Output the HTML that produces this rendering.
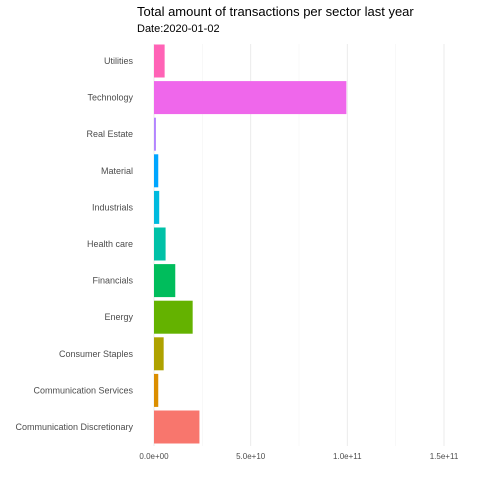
<!DOCTYPE html>
<html><head><meta charset="utf-8"><style>
body{margin:0;background:#fff;}
svg{display:block;font-family:"Liberation Sans",sans-serif;}
</style></head><body>
<svg id="chart" width="480" height="480">
<text x="137" y="16" font-size="13" fill="#000">Total amount of transactions per sector last year</text>
<text x="137" y="32" font-size="11" fill="#000">Date:2020-01-02</text>
<g id="grid"></g><g id="bars"></g><g id="ylabels"></g><g id="xlabels"></g>
</svg>
<script>
const categories=["Communication Discretionary","Communication Services","Consumer Staples","Energy","Financials","Health care","Industrials","Material","Real Estate","Technology","Utilities"];
const values=[2.35e10,0.22e10,0.5e10,2.0e10,1.1e10,0.6e10,0.27e10,0.22e10,0.1e10,9.95e10,0.55e10];
const colors=["#F8766D","#DB8E00","#AEA200","#64B200","#00BD5C","#00C1A7","#00BADE","#00A6FF","#B385FF","#EF67EB","#FF63B6"];
const tickValues=[0,5e10,1e11,1.5e11];
const tickLabels=["0.0e+00","5.0e+10","1.0e+11","1.5e+11"];
const NS="http://www.w3.org/2000/svg";
const xs=v=>154+v*(444-154)/1.5e11;
const yc=i=>427-i*36.6;
const plotTop=44,plotBottom=446;
const grid=document.getElementById('grid');
for(let k=0;k<=6;k++){const v=k*2.5e10;const l=document.createElementNS(NS,'line');
l.setAttribute('x1',xs(v));l.setAttribute('x2',xs(v));l.setAttribute('y1',plotTop);l.setAttribute('y2',plotBottom);
l.setAttribute('stroke',k%2?'#f2f2f2':'#ebebeb');l.setAttribute('stroke-width',k%2?0.5:1);


grid.appendChild(l);}
const bars=document.getElementById('bars'),yl=document.getElementById('ylabels'),xl=document.getElementById('xlabels');
categories.forEach((c,i)=>{
const r=document.createElementNS(NS,'rect');
r.setAttribute('x',xs(0));r.setAttribute('y',yc(i)-16.5);r.setAttribute('width',Math.max(0,xs(values[i])-xs(0)));r.setAttribute('height',33);r.setAttribute('fill',colors[i]);


bars.appendChild(r);
const t=document.createElementNS(NS,'text');
t.setAttribute('x',133);t.setAttribute('y',yc(i)+3);t.setAttribute('text-anchor','end');t.setAttribute('font-size','9');t.setAttribute('fill','#4d4d4d');t.textContent=c;


yl.appendChild(t);});
tickValues.forEach((v,i)=>{const t=document.createElementNS(NS,'text');
t.setAttribute('x',xs(v));t.setAttribute('y',459);t.setAttribute('text-anchor','middle');t.setAttribute('font-size','8');t.setAttribute('fill','#4d4d4d');t.textContent=tickLabels[i];


xl.appendChild(t);});
</script>
</body></html>
